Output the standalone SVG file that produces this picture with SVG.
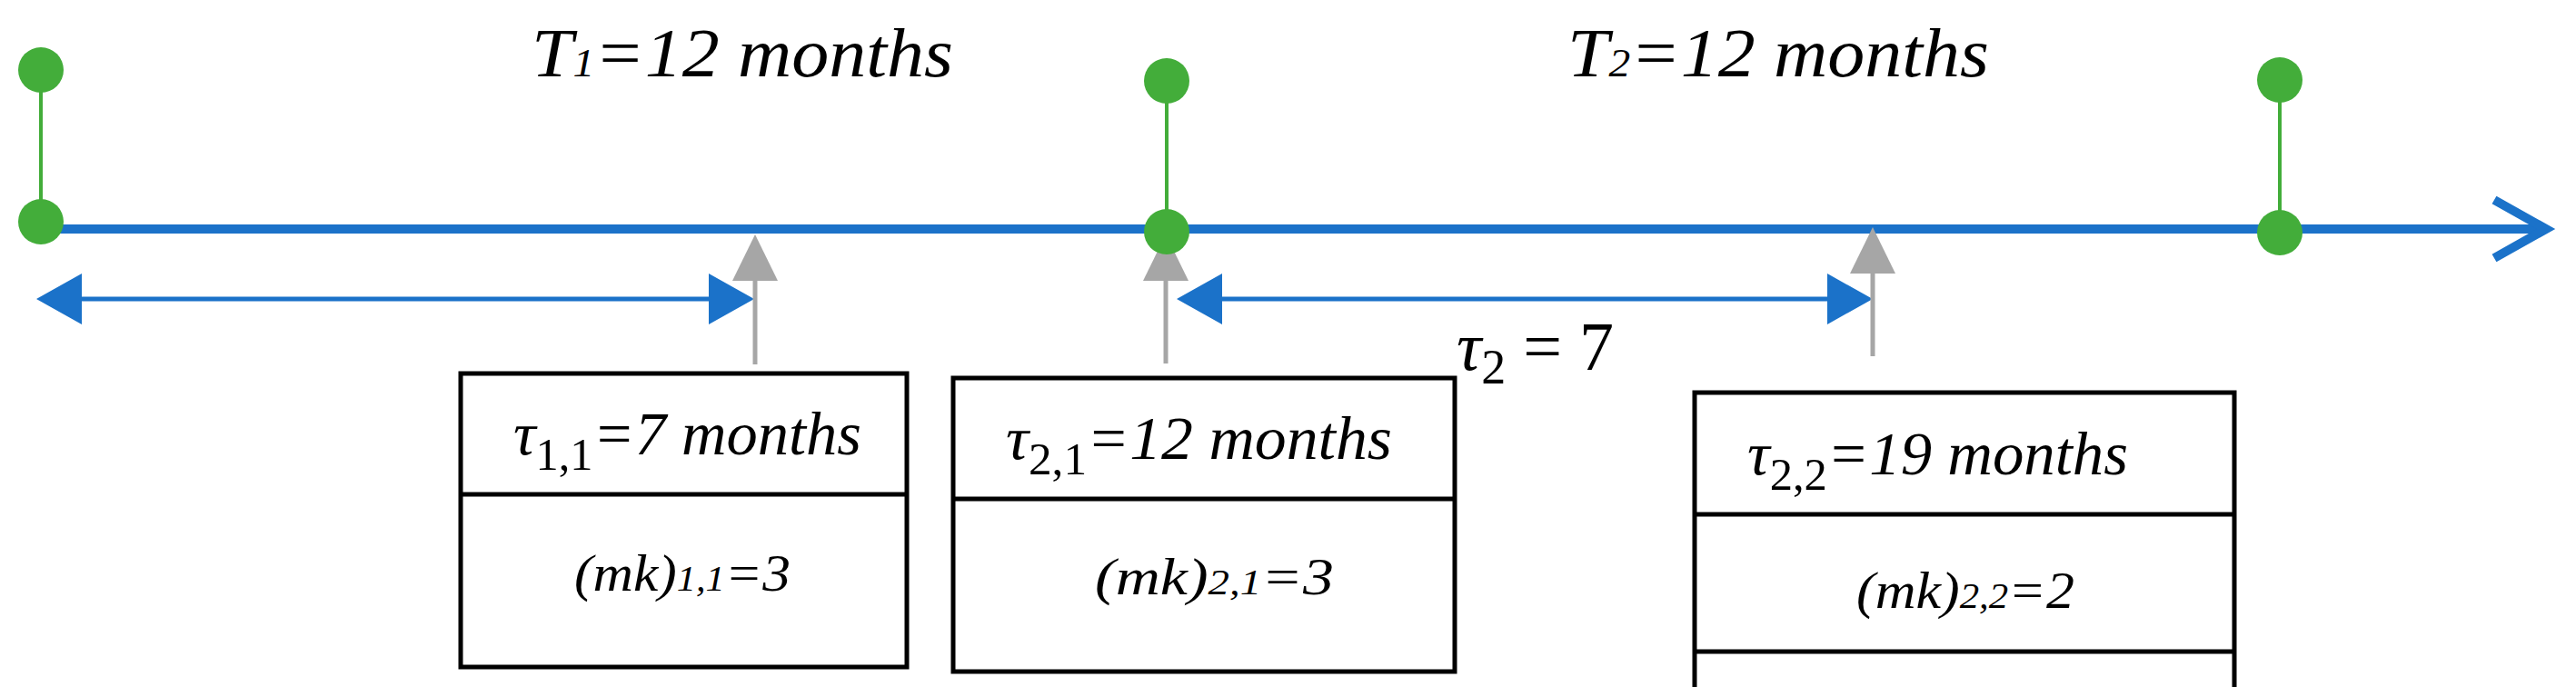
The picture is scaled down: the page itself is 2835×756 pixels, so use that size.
<svg xmlns="http://www.w3.org/2000/svg" width="2835" height="756" viewBox="0 0 2835 756">
<style>
.t{font-family:"Liberation Serif","DejaVu Serif",serif;font-style:italic;fill:#000}
.n{font-style:normal}
.box{fill:#fff;stroke:#000;stroke-width:5}
.g{stroke:#43ad3a;stroke-width:4}
.dot{fill:#43ad3a}
.ax{stroke:#1b72c9;stroke-width:10;fill:none}
.da{stroke:#1b72c9;stroke-width:5}
.gr{stroke:#a6a6a6;stroke-width:5}
</style>
<g id="connectors">
<line class="ax" x1="43" y1="252" x2="2800" y2="252"/>
<polyline class="ax" points="2745,220 2802,252 2745,284"/>
<line class="da" x1="90" y1="329" x2="780" y2="329"/>
<path d="M40,329L90,301L90,357z M830,329L780,301L780,357z" fill="#1b72c9"/>
<line class="da" x1="1345" y1="329" x2="2011" y2="329"/>
<path d="M1295,329L1345,301L1345,357z M2061,329L2011,301L2011,357z" fill="#1b72c9"/>
<line class="gr" x1="831" y1="300" x2="831" y2="401"/>
<path d="M831,258L856,309L806,309z" fill="#a6a6a6"/>
<line class="gr" x1="1283" y1="300" x2="1283" y2="400"/>
<path d="M1283,258L1308,309L1258,309z" fill="#a6a6a6"/>
<line class="gr" x1="2061" y1="292" x2="2061" y2="392"/>
<path d="M2061,250L2086,301L2036,301z" fill="#a6a6a6"/>
</g>
<g id="m0"><line class="g" x1="45" y1="77" x2="45" y2="244"/><circle class="dot" cx="45" cy="77" r="25"/><circle class="dot" cx="45" cy="244" r="25"/></g>
<g id="m1"><line class="g" x1="1284" y1="89" x2="1284" y2="255"/><circle class="dot" cx="1284" cy="89" r="25"/><circle class="dot" cx="1284" cy="255" r="25"/></g>
<g id="m2"><line class="g" x1="2509" y1="88" x2="2509" y2="256"/><circle class="dot" cx="2509" cy="88" r="25"/><circle class="dot" cx="2509" cy="256" r="25"/></g>
<g id="labels">
<text class="t" x="585" y="84" font-size="76" textLength="464" lengthAdjust="spacingAndGlyphs">T<tspan font-size="44">1</tspan>=12 months</text>
<text class="t" x="1725" y="84" font-size="76" textLength="464" lengthAdjust="spacingAndGlyphs">T<tspan font-size="44">2</tspan>=12 months</text>
<text class="t" x="1603" y="407" font-size="76">τ<tspan class="n" font-size="54" dy="15">2</tspan><tspan class="n" dy="-15"> = 7</tspan></text>
</g>
<g id="box1"><rect class="box" x="507" y="411" width="491" height="323"/><line class="box" x1="507" y1="544" x2="998" y2="544"/>
<text class="t" x="565" y="500" font-size="68" textLength="383" lengthAdjust="spacingAndGlyphs">τ<tspan class="n" font-size="50" dy="17">1,1</tspan><tspan dy="-17">=7 months</tspan></text>
<text class="t" x="632" y="650" font-size="58" textLength="238" lengthAdjust="spacingAndGlyphs">(mk)<tspan font-size="40">1,1</tspan>=3</text></g>
<g id="box2"><rect class="box" x="1049" y="416" width="552" height="323"/><line class="box" x1="1049" y1="549" x2="1601" y2="549"/>
<text class="t" x="1107" y="505" font-size="68" textLength="425" lengthAdjust="spacingAndGlyphs">τ<tspan class="n" font-size="50" dy="17">2,1</tspan><tspan dy="-17">=12 months</tspan></text>
<text class="t" x="1205" y="654" font-size="58" textLength="263" lengthAdjust="spacingAndGlyphs">(mk)<tspan font-size="40">2,1</tspan>=3</text></g>
<g id="box3"><path class="box" d="M1865,756V432H2459V756"/><line class="box" x1="1865" y1="566" x2="2459" y2="566"/><line class="box" x1="1865" y1="717" x2="2459" y2="717"/>
<text class="t" x="1923" y="522" font-size="68" textLength="419" lengthAdjust="spacingAndGlyphs">τ<tspan class="n" font-size="50" dy="17">2,2</tspan><tspan dy="-17">=19 months</tspan></text>
<text class="t" x="2043" y="669" font-size="58" textLength="240" lengthAdjust="spacingAndGlyphs">(mk)<tspan font-size="40">2,2</tspan>=2</text></g>
</svg>
